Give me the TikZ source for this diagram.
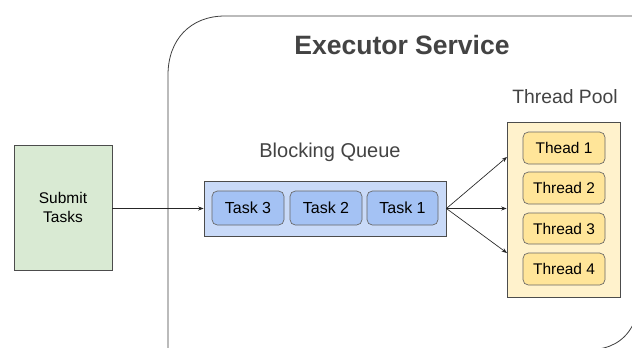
\documentclass[tikz,border=0pt]{standalone}
\usepackage{fontspec}
\setmainfont{Liberation Sans}
\usetikzlibrary{arrows.meta}
\definecolor{greenfill}{HTML}{D9EAD3}
\definecolor{bluefill}{HTML}{C9DAF8}
\definecolor{taskfill}{HTML}{A4C2F4}
\definecolor{poolfill}{HTML}{FFF2CC}
\definecolor{threadfill}{HTML}{FFE599}
\definecolor{titlegray}{HTML}{434343}
\tikzset{
  box/.style={draw=black!70, line width=0.6pt, inner sep=0pt},
  taskbox/.style={draw=black!60, line width=0.5pt, rounded corners=4pt, fill=taskfill, inner sep=0pt, font=\fontsize{12}{14}\selectfont},
  threadbox/.style={draw=black!60, line width=0.5pt, rounded corners=4pt, fill=threadfill, inner sep=0pt, font=\fontsize{11.6}{14}\selectfont},
  conn/.style={-{Stealth[length=4pt,width=3pt]}, line width=0.5pt, black!85},
  label/.style={text=titlegray, inner sep=0pt},
  outer/.style={black!75, line width=0.6pt}
}
\begin{document}
\begin{tikzpicture}[x=0.75pt,y=-0.75pt]
\useasboundingbox (0,0) rectangle (632,347);
\fill[white] (0,0) rectangle (632,347);
\begin{scope}
\clip (0,0) rectangle (632,347);
\draw[outer] (168,360) -- (168,75) .. controls (168,40) and (190,16) .. (225,16) -- (640,16);
\draw[outer] (598,349) .. controls (614,347) and (628,338) .. (635,320);
\end{scope}
\node[label, font=\bfseries\fontsize{19.9}{22}\selectfont] (title) at (402,45) {Executor Service};

% Submit Tasks
\node[box, fill=greenfill, minimum width=98*0.75pt, minimum height=125*0.75pt, align=center, font=\fontsize{11.6}{14}\selectfont] (submit) at (63,207.5) {Submit\\Tasks};

% Blocking queue
\node[label, font=\fontsize{15}{17}\selectfont] (bqlabel) at (330,152) {Blocking Queue};
\node[box, fill=bluefill, minimum width=242*0.75pt, minimum height=55*0.75pt] (queue) at (325,208.5) {};
\node[taskbox, minimum width=72*0.75pt, minimum height=34*0.75pt] (t3) at (248,208) {Task 3};
\node[taskbox, minimum width=72*0.75pt, minimum height=34*0.75pt] (t2) at (326,208) {Task 2};
\node[taskbox, minimum width=71*0.75pt, minimum height=34*0.75pt] (t1) at (402.5,208) {Task 1};

% Thread pool
\node[label, font=\fontsize{14.5}{17}\selectfont] (tplabel) at (565,97) {Thread Pool};
\node[box, fill=poolfill, minimum width=113*0.75pt, minimum height=175*0.75pt] (pool) at (563.5,209.5) {};
\node[threadbox, minimum width=82*0.75pt, minimum height=32*0.75pt] (th1) at (564,148) {Thead 1};
\node[threadbox, minimum width=82*0.75pt, minimum height=32*0.75pt] (th2) at (564,188) {Thread 2};
\node[threadbox, minimum width=82*0.75pt, minimum height=31*0.75pt] (th3) at (564,228.5) {Thread 3};
\node[threadbox, minimum width=82*0.75pt, minimum height=32*0.75pt] (th4) at (564,269) {Thread 4};

% connectors
\coordinate (p1) at (507,157);
\coordinate (p3) at (507,253);
\draw[conn] (submit.east |- queue.west) -- (queue.west);
\draw[conn] (queue.east) -- (p1);
\draw[conn] (queue.east) -- (queue.east -| pool.west);
\draw[conn] (queue.east) -- (p3);
\end{tikzpicture}
\end{document}
